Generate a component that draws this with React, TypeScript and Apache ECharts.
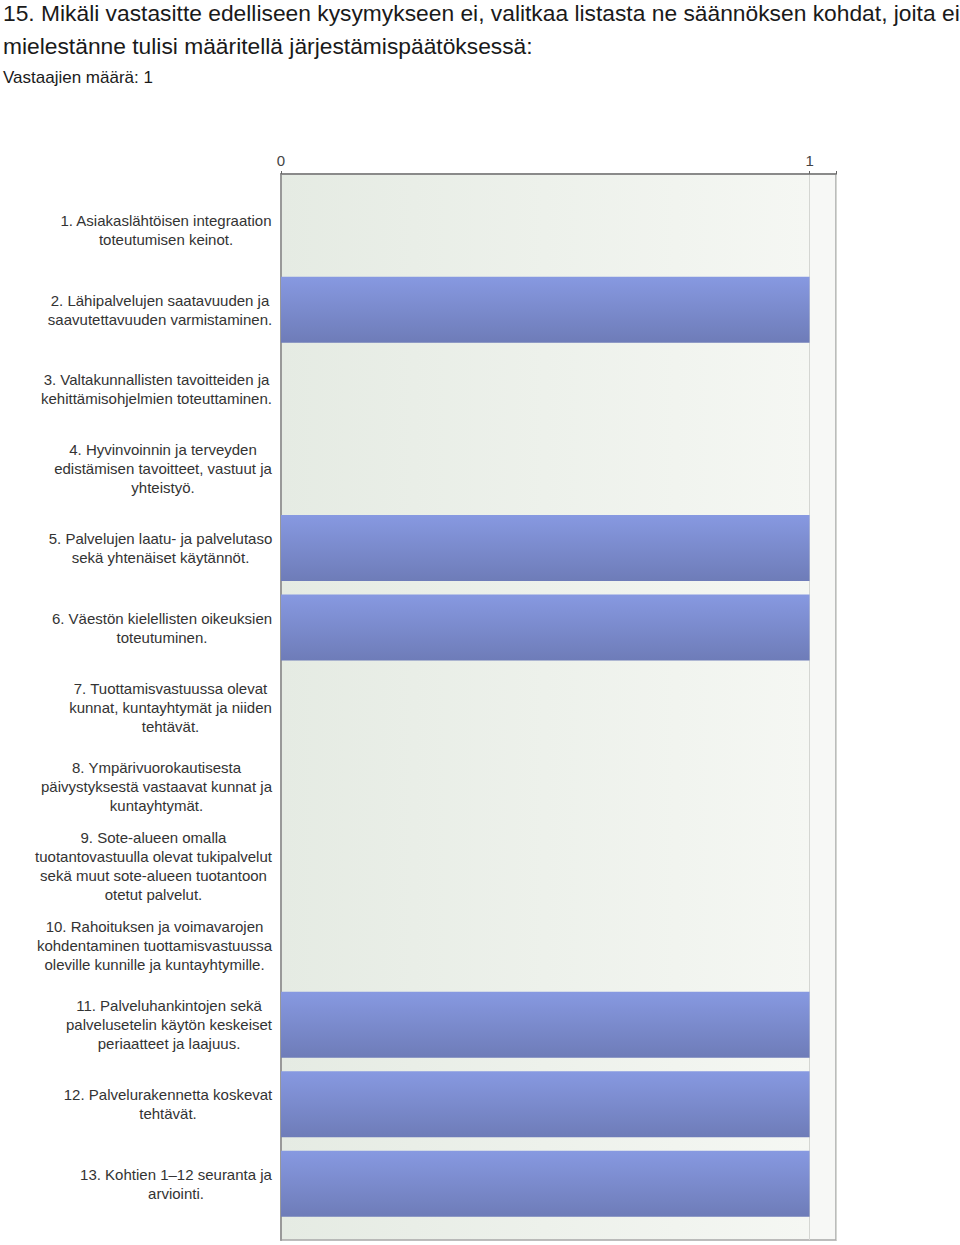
import React, { useEffect, useRef } from "react";
import * as echarts from "echarts";

const titleLines = [
  "15. Mikäli vastasitte edelliseen kysymykseen ei, valitkaa listasta ne säännöksen kohdat, joita ei",
  "mielestänne tulisi määritellä järjestämispäätöksessä:",
];
const subtitle = "Vastaajien määrä: 1";

const categories = [
  "1. Asiakaslähtöisen integraation\ntoteutumisen keinot.",
  "2. Lähipalvelujen saatavuuden ja\nsaavutettavuuden varmistaminen.",
  "3. Valtakunnallisten tavoitteiden ja\nkehittämisohjelmien toteuttaminen.",
  "4. Hyvinvoinnin ja terveyden\nedistämisen tavoitteet, vastuut ja\nyhteistyö.",
  "5. Palvelujen laatu- ja palvelutaso\nsekä yhtenäiset käytännöt.",
  "6. Väestön kielellisten oikeuksien\ntoteutuminen.",
  "7. Tuottamisvastuussa olevat\nkunnat, kuntayhtymät ja niiden\ntehtävät.",
  "8. Ympärivuorokautisesta\npäivystyksestä vastaavat kunnat ja\nkuntayhtymät.",
  "9. Sote-alueen omalla\ntuotantovastuulla olevat tukipalvelut\nsekä muut sote-alueen tuotantoon\notetut palvelut.",
  "10. Rahoituksen ja voimavarojen\nkohdentaminen tuottamisvastuussa\noleville kunnille ja kuntayhtymille.",
  "11. Palveluhankintojen sekä\npalvelusetelin käytön keskeiset\nperiaatteet ja laajuus.",
  "12. Palvelurakennetta koskevat\ntehtävät.",
  "13. Kohtien 1–12 seuranta ja\narviointi.",
];
const values = [0, 1, 0, 0, 1, 1, 0, 0, 0, 0, 1, 1, 1];
const axisMin = 0;
const axisMax = 1.05;
const axisInterval = 1;

const FONT = "'Liberation Sans', Arial, sans-serif";
const LABEL_SIZE = 15;

function measureWidth(text: string): number {
  const c = document.createElement("canvas");
  const ctx = c.getContext("2d");
  if (!ctx) return 200;
  ctx.font = `${LABEL_SIZE}px ${FONT}`;
  return Math.max(...text.split("\n").map((l) => ctx.measureText(l).width));
}

export default function App() {
  const ref = useRef<HTMLDivElement>(null);
  useEffect(() => {
    document.body.style.margin = "0";
    if (!ref.current) return;
    const chart = echarts.init(ref.current, undefined, { renderer: "svg" });

    const plotLeft = 281;
    const plotTop = 174;
    const plotWidth = 555;
    const plotHeight = 1066;
    const pad = 16.5;

    const catData = categories.map((c) => ({
      value: c,
      textStyle: {
        align: "center",
        padding: [0, Math.round(measureWidth(c)), 0, 0],
      },
    }));

    chart.setOption({
      animation: false,
      title: [
        {
          text: titleLines.join("\n"),
          left: 3,
          top: -4,
          padding: 0,
          textStyle: {
            fontFamily: FONT,
            fontSize: 22.8,
            fontWeight: "normal",
            color: "#1a1a1a",
            lineHeight: 33,
          },
        },
        {
          text: subtitle,
          left: 3,
          top: 68,
          padding: 0,
          textStyle: {
            fontFamily: FONT,
            fontSize: 17,
            fontWeight: "normal",
            color: "#1a1a1a",
            lineHeight: 18,
          },
        },
      ],
      grid: [
        {
          left: plotLeft,
          top: plotTop + pad,
          width: plotWidth,
          height: plotHeight - 2 * pad,
          outerBoundsMode: "none",
          containLabel: false,
        },
        {
          left: plotLeft,
          top: plotTop,
          width: plotWidth,
          height: plotHeight,
          outerBoundsMode: "none",
          containLabel: false,
          show: true,
          borderColor: "#a8a8a8",
          borderWidth: 1.5,
          backgroundColor: new echarts.graphic.LinearGradient(0, 0, 1, 0, [
            { offset: 0, color: "#E5EBE3" },
            { offset: 0.95, color: "#F5F7F3" },
            { offset: 0.953, color: "#F7F8F6" },
            { offset: 1, color: "#F7F8F6" },
          ]),
          z: 0,
        },
      ],
      xAxis: [
        {
          gridIndex: 0,
          type: "value",
          min: axisMin,
          max: axisMax,
          interval: axisInterval,
          show: false,
        },
        {
          gridIndex: 1,
          type: "value",
          position: "top",
          min: axisMin,
          max: axisMax,
          interval: axisInterval,
          axisLine: { show: true, onZero: false, lineStyle: { color: "#8a8a8a", width: 2 } },
          axisTick: { show: true, inside: false, length: 3, lineStyle: { color: "#666" } },
          axisLabel: {
            fontFamily: FONT,
            fontSize: 15,
            color: "#444",
            margin: 6,
            formatter: (v: number) => (Number.isInteger(v) ? String(v) : ""),
          },
          splitLine: { show: true, lineStyle: { color: "#d4d6d2", width: 1 } },
        },
      ],
      yAxis: [
        {
          gridIndex: 0,
          type: "category",
          inverse: true,
          data: catData,
          axisLine: { show: false },
          axisTick: { show: false },
          axisLabel: {
            interval: 0,
            fontFamily: FONT,
            fontSize: LABEL_SIZE,
            color: "#333",
            lineHeight: 19,
            margin: 9,
            align: "center",
          },
        },
        {
          gridIndex: 1,
          type: "value",
          show: true,
          axisLine: { show: true, onZero: false, lineStyle: { color: "#999", width: 2 } },
          axisTick: { show: false },
          axisLabel: { show: false },
          splitLine: { show: false },
        },
      ],
      series: [
        {
          type: "bar",
          xAxisIndex: 0,
          yAxisIndex: 0,
          data: values,
          barWidth: 66,
          z: 5,
          itemStyle: {
            color: new echarts.graphic.LinearGradient(0, 0, 0, 1, [
              { offset: 0, color: "#8799E1" },
              { offset: 1, color: "#6E7CB8" },
            ]),
          },
        },
      ],
    });
    return () => chart.dispose();
  }, []);
  return <div ref={ref} style={{ width: 960, height: 1245 }} />;
}
